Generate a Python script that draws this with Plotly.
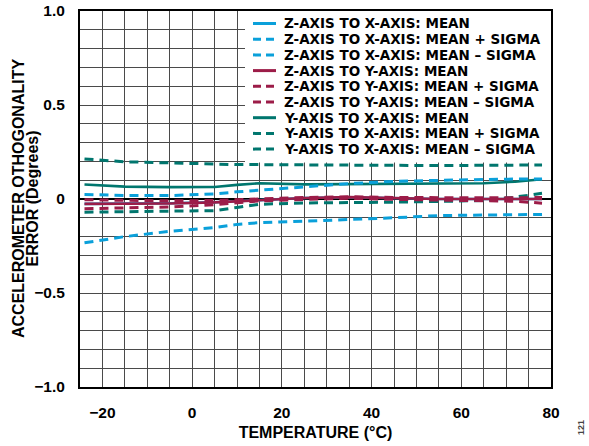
import plotly.graph_objects as go

# ---------------- data ----------------
temps = [-24, -15, -5, 5, 10, 15, 25, 35, 45, 55, 65, 72, 78]

zx_mean  = [-0.026, -0.025, -0.023, -0.017, -0.011, -0.005, 0.005, 0.009, 0.004, 0.000, 0.000, 0.000, 0.000]
zx_plus  = [0.024, 0.019, 0.018, 0.027, 0.038, 0.047, 0.064, 0.082, 0.094, 0.100, 0.104, 0.106, 0.107]
zx_minus = [-0.233, -0.200, -0.172, -0.152, -0.135, -0.126, -0.118, -0.110, -0.100, -0.088, -0.084, -0.083, -0.082]

zy_mean  = [-0.026, -0.026, -0.024, -0.018, -0.012, -0.006, 0.005, 0.010, 0.004, 0.000, 0.000, 0.000, 0.000]
zy_plus  = [-0.004, -0.006, -0.010, -0.008, -0.005, 0.000, 0.008, 0.012, 0.008, 0.006, 0.005, 0.006, 0.008]
zy_minus = [-0.052, -0.048, -0.042, -0.030, -0.020, -0.010, -0.002, 0.004, -0.002, -0.006, -0.008, -0.012, -0.022]

yx_mean  = [0.077, 0.066, 0.063, 0.064, 0.075, 0.084, 0.078, 0.080, 0.083, 0.082, 0.084, 0.092, 0.105]
yx_plus  = [0.213, 0.198, 0.192, 0.184, 0.183, 0.183, 0.183, 0.181, 0.179, 0.178, 0.178, 0.179, 0.181]
yx_minus = [-0.070, -0.068, -0.066, -0.062, -0.045, -0.028, -0.021, -0.020, -0.017, -0.013, -0.008, 0.010, 0.030]

x_ticks = [-20, 0, 20, 40, 60, 80]
y_ticks = [-1.0, -0.5, 0.0, 0.5, 1.0]
y_ticktext = ["\u22121.0", "\u22120.5", "0", "0.5", "1.0"]

x_title = "TEMPERATURE (\u00b0C)"
y_title_lines = ["ACCELEROMETER OTHOGONALITY", "ERROR (Degrees)"]

names = [
    "Z-AXIS TO X-AXIS: MEAN",
    "Z-AXIS TO X-AXIS: MEAN + SIGMA",
    "Z-AXIS TO X-AXIS: MEAN \u2013 SIGMA",
    "Z-AXIS TO Y-AXIS: MEAN",
    "Z-AXIS TO Y-AXIS: MEAN + SIGMA",
    "Z-AXIS TO Y-AXIS: MEAN \u2013 SIGMA",
    "Y-AXIS TO X-AXIS: MEAN",
    "Y-AXIS TO X-AXIS: MEAN + SIGMA",
    "Y-AXIS TO X-AXIS: MEAN \u2013 SIGMA",
]
series = [zx_mean, zx_plus, zx_minus, zy_mean, zy_plus, zy_minus, yx_mean, yx_plus, yx_minus]

BLUE = "#0AA0DA"
RED = "#9C1C48"
TEAL = "#00766E"
colors = [BLUE] * 3 + [RED] * 3 + [TEAL] * 3
dashes = ["solid", "9px,6px", "9px,6px"] * 3

FONT = "Liberation Sans, Arial, sans-serif"
LEGFONT = "DejaVu Sans, sans-serif"

fig = go.Figure()

# drawing order: blue mean hidden underneath, then teal, blue sigma, red
order = [0, 6, 7, 8, 1, 2, 3, 4, 5]
for i in order:
    fig.add_trace(go.Scatter(
        x=temps, y=series[i], mode="lines", name=names[i],
        line=dict(color=colors[i], width=2.6 if dashes[i] == "solid" else 3, dash=dashes[i]),
        showlegend=False, hoverinfo="skip",
    ))

# ---------------- layout ----------------
L, R, T, B = 80, 38, 11, 59
W, H = 589, 446
pw, ph = W - L - R, H - T - B
XR = [-25, 80]
YR = [-1, 1]

def px_x(p):
    return (p - L) / pw

def px_y(p):
    return 1 - (p - T) / ph

def data_x(p):
    return XR[0] + px_x(p) * (XR[1] - XR[0])

def data_y(p):
    return YR[0] + px_y(p) * (YR[1] - YR[0])

shapes = []
annotations = []

# white legend box covering gridlines (between grid and traces)
shapes.append(dict(type="rect", xref="x", yref="y", layer="between",
                   x0=data_x(245), x1=XR[1], y0=data_y(162.5), y1=YR[1],
                   fillcolor="white", line=dict(width=0)))

row0, rowstep = 23.5, 15.7
for k, nm in enumerate(names):
    yc = px_y(row0 + rowstep * k)
    shapes.append(dict(type="line", xref="paper", yref="paper", layer="above",
                       x0=px_x(253), x1=px_x(276), y0=yc, y1=yc,
                       line=dict(color=colors[k], width=3,
                                 dash="solid" if dashes[k] == "solid" else "8px,5px")))
    annotations.append(dict(xref="paper", yref="paper", x=px_x(282), y=yc,
                            xanchor="left", yanchor="middle", showarrow=False,
                            text=nm, font=dict(family=LEGFONT, size=13.5, color="black", weight="bold")))

# y-axis title: two tightly spaced rotated lines
TITLEF = dict(family=FONT, size=16, color="black", weight="bold")
for xpx, line in zip([18, 31.5], y_title_lines):
    annotations.append(dict(xref="paper", yref="paper", x=px_x(xpx), y=0.5,
                            xanchor="center", yanchor="middle", showarrow=False, textangle=-90,
                            text=line, font=TITLEF))

annotations.append(dict(xref="paper", yref="paper", x=px_x(581), y=px_y(428),
                        xanchor="center", yanchor="middle", showarrow=False, textangle=-90,
                        text="121", font=dict(family=FONT, size=9, color="#444")))

GRID = "#4a4a4a"
TF = dict(family=FONT, size=15.5, color="black", weight="bold")
fig.update_layout(
    width=W, height=H,
    margin=dict(l=L, r=R, t=T, b=B, pad=0),
    paper_bgcolor="white", plot_bgcolor="white",
    showlegend=False,
    font=TF,
    shapes=shapes, annotations=annotations,
    xaxis=dict(
        range=XR, tickmode="array", tickvals=x_ticks, automargin=False,
        showgrid=True, gridcolor=GRID, gridwidth=1,
        minor=dict(tickmode="linear", tick0=0, dtick=5, showgrid=True, gridcolor=GRID, gridwidth=1),
        zeroline=False, showline=True, mirror=True, linecolor="black", linewidth=2,
        ticks="", ticklabelstandoff=10,
        tickfont=TF,
        title=dict(text=x_title, standoff=7, font=TITLEF),
    ),
    yaxis=dict(
        range=YR, tickmode="array", tickvals=y_ticks, ticktext=y_ticktext, automargin=False,
        showgrid=True, gridcolor=GRID, gridwidth=1,
        minor=dict(tickmode="linear", tick0=0, dtick=0.1, showgrid=True, gridcolor=GRID, gridwidth=1),
        zeroline=True, zerolinecolor="black", zerolinewidth=1.5,
        showline=True, mirror=True, linecolor="black", linewidth=2,
        ticks="", ticklabelstandoff=10,
        tickfont=TF,
    ),
)

fig.write_html("out.html")
